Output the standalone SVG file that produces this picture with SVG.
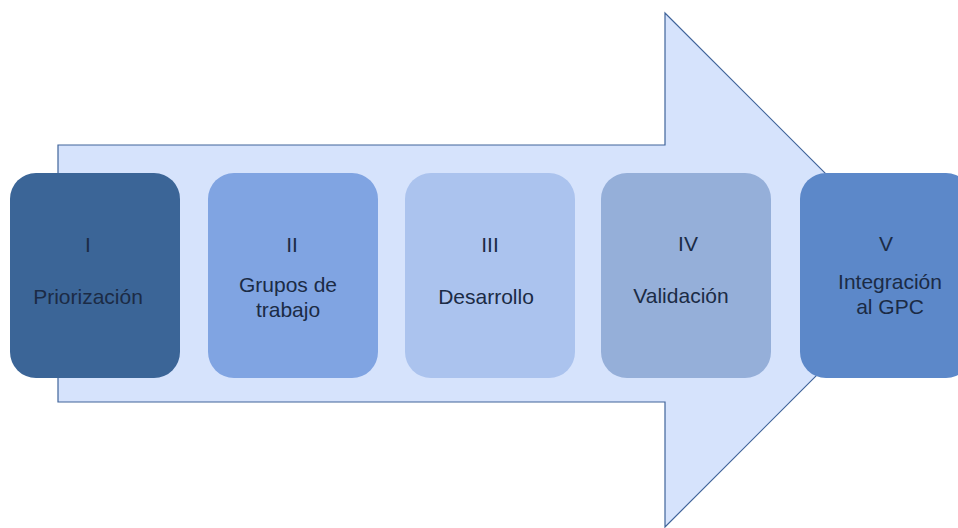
<svg xmlns="http://www.w3.org/2000/svg" width="958" height="528" viewBox="0 0 958 528">
<style>
  .lbl { font-family: "Liberation Sans", Arial, sans-serif; font-size: 21px; fill: #1B2B45; text-anchor: middle; }
  .box { stroke: none; }
</style>
<rect width="958" height="528" fill="#FFFFFF"/>
<g id="arrow">
  <path d="M58,145 L665,145 L665,13 L922,270 L665,527 L665,402 L58,402 Z" fill="#D6E3FC" stroke="#40649A" stroke-width="1.2"/>
</g>
<g id="node-I">
  <rect class="box" x="10" y="173" width="170" height="205" rx="26" fill="#3B6597"/>
  <text class="lbl" x="88" y="252">I</text>
  <text class="lbl" x="88" y="304">Priorización</text>
</g>
<g id="node-II">
  <rect class="box" x="208" y="173" width="170" height="205" rx="26" fill="#80A4E2"/>
  <text class="lbl" x="292" y="252">II</text>
  <text class="lbl" x="288" y="292">Grupos de</text>
  <text class="lbl" x="288" y="317">trabajo</text>
</g>
<g id="node-III">
  <rect class="box" x="405" y="173" width="170" height="205" rx="26" fill="#ABC3EE"/>
  <text class="lbl" x="490" y="252">III</text>
  <text class="lbl" x="486" y="304">Desarrollo</text>
</g>
<g id="node-IV">
  <rect class="box" x="601" y="173" width="170" height="205" rx="26" fill="#95AFD9"/>
  <text class="lbl" x="688" y="251">IV</text>
  <text class="lbl" x="681" y="303">Validación</text>
</g>
<g id="node-V">
  <rect class="box" x="800" y="173" width="172" height="205" rx="26" fill="#5C88C9"/>
  <text class="lbl" x="886" y="251">V</text>
  <text class="lbl" x="890" y="289">Integración</text>
  <text class="lbl" x="890" y="314">al GPC</text>
</g>
<g id="connectors"></g>
</svg>
